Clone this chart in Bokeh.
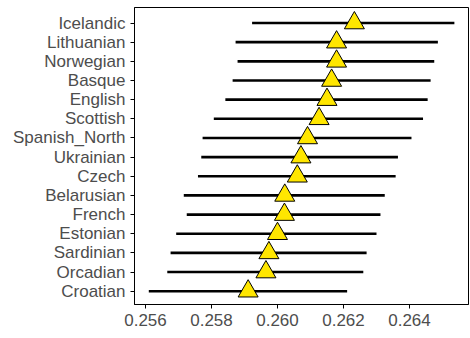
from bokeh.plotting import figure
from bokeh.models import ColumnDataSource, Range1d, FixedTicker
from bokeh.embed import file_html
from bokeh.resources import INLINE

# Data (top to bottom as shown)
languages = ["Icelandic", "Lithuanian", "Norwegian", "Basque", "English", "Scottish",
             "Spanish_North", "Ukrainian", "Czech", "Belarusian", "French", "Estonian",
             "Sardinian", "Orcadian", "Croatian"]
estimate = [0.26233, 0.26179, 0.26179, 0.26164, 0.26150, 0.26126, 0.26091, 0.26071,
            0.26060, 0.26022, 0.26021, 0.26000, 0.25974, 0.25965, 0.25911]
lower = [0.25923, 0.25873, 0.25879, 0.25864, 0.25842, 0.25807, 0.25773, 0.25769,
         0.25759, 0.25716, 0.25725, 0.25693, 0.25676, 0.25666, 0.25610]
upper = [0.26536, 0.26486, 0.26475, 0.26464, 0.26455, 0.26441, 0.26406, 0.26365,
         0.26358, 0.26325, 0.26312, 0.26300, 0.26270, 0.26260, 0.26211]
x_ticks = [0.256, 0.258, 0.260, 0.262, 0.264]

n = len(languages)
ypos = [n - i for i in range(n)]

src = ColumnDataSource(dict(lang=languages, est=estimate, lo=lower, hi=upper, y=ypos))

p = figure(width=470, height=338, output_backend="svg", toolbar_location=None,
           x_range=Range1d(0.2556667, 0.2657879), y_range=Range1d(0.306, 15.81),
           min_border_left=134, min_border_right=2, min_border_top=7, min_border_bottom=34)

p.segment(x0="lo", y0="y", x1="hi", y1="y", source=src, line_width=2.6, line_color="black")
p.scatter(x="est", y="y", source=src, marker="triangle", size=20,
          fill_color="#FFE600", line_color="black", line_width=1)

p.xgrid.visible = False
p.ygrid.visible = False
p.outline_line_color = "black"
p.outline_line_width = 1
p.background_fill_color = "white"
p.border_fill_color = "white"

p.xaxis.ticker = FixedTicker(ticks=x_ticks)
p.xaxis.major_label_overrides = {t: f"{t:.3f}" for t in x_ticks}
p.yaxis.ticker = FixedTicker(ticks=ypos)
p.yaxis.major_label_overrides = {float(y): l for y, l in zip(ypos, languages)}

for ax in (p.xaxis[0], p.yaxis[0]):
    ax.axis_line_color = "black"
    ax.axis_line_width = 1
    ax.major_tick_line_color = "black"
    ax.major_tick_out = 4
    ax.major_tick_in = 0
    ax.minor_tick_out = 0
    ax.minor_tick_in = 0
    ax.major_label_text_font = "Liberation Sans"
    ax.major_label_text_font_size = "17px"
    ax.major_label_text_color = "#4D4D4D"
    ax.major_label_standoff = 5

open("out.html", "w").write(file_html(p, INLINE))
